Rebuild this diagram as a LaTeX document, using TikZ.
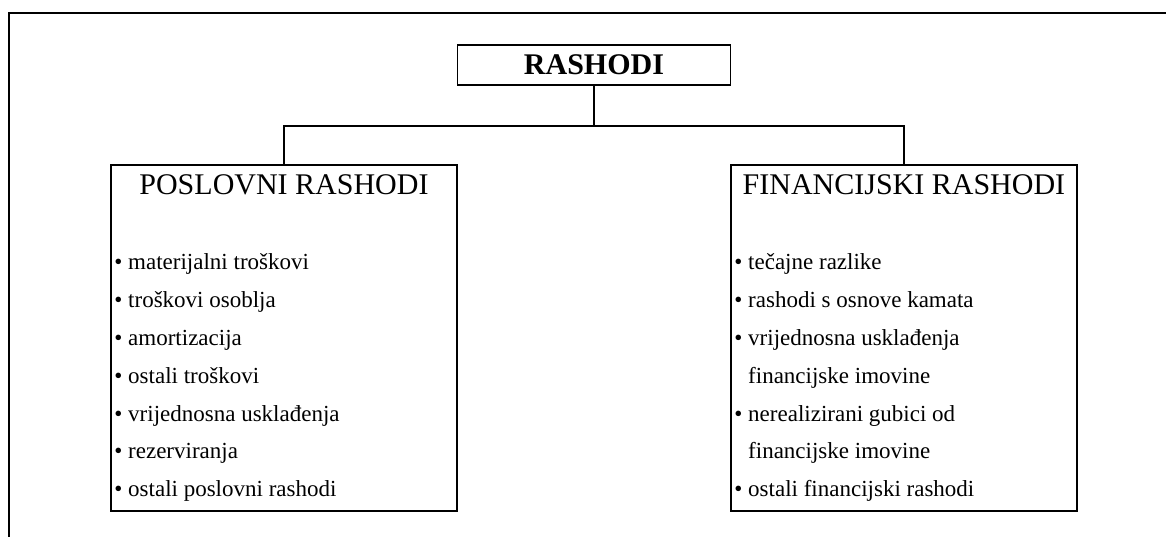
\documentclass[tikz,border=0pt]{standalone}
\usepackage{fontspec}
\setmainfont{Liberation Serif}
\usepackage{tikz}
\usetikzlibrary{calc, positioning}
\tikzset{
    rootbox/.style = {rectangle, draw, minimum width=273pt, minimum height=40pt, inner sep=0pt, outer sep=0pt, font=\fontsize{30pt}{36pt}\selectfont\bfseries},
    catbox/.style = {rectangle, draw, minimum width=346pt, minimum height=346pt, inner sep=0pt, outer sep=0pt},
    boxtitle/.style = {anchor=base, inner sep=0pt, font=\fontsize{30pt}{36pt}\selectfont},
    listline/.style = {anchor=base west, inner sep=0pt, font=\fontsize{23pt}{28pt}\selectfont}
}
\begin{document}
\begin{tikzpicture}
    [x=1pt, y=1pt, line width=1.8pt,
    level distance=273pt, sibling distance=620pt,
    edge from parent path={(\tikzparentnode.south) -- ++(0,-41pt) -| (\tikzchildnode.north)}]
    \useasboundingbox (0,0) rectangle (1166,537);
    % outer frame, only top and left edges show
    \coordinate (frame-bl) at (9,0);
    \coordinate (frame-tl) at (9,524);
    \coordinate (frame-tr) at (1166,524);
    \draw (frame-bl) -- (frame-tl) -- (frame-tr);
    \node [rootbox] (rashodi) at (594,472) {RASHODI}
        child {node [catbox] (poslovni) {}}
        child {node [catbox] (financijski) {}};
    \node [boxtitle] (poslovni-title) at ([yshift=-30pt]poslovni.north) {POSLOVNI RASHODI};
    \node [boxtitle] (financijski-title) at ([yshift=-30pt]financijski.north) {FINANCIJSKI RASHODI};
    \foreach \txt [count=\i from 0] in {{• materijalni troškovi}, {• troškovi osoblja}, {• amortizacija}, {• ostali troškovi}, {• vrijednosna usklađenja}, {• rezerviranja}, {• ostali poslovni rashodi}}
        \node [listline] (poslovni-\i) at ([xshift=2.5pt, yshift=-105pt-37.8pt*\i]poslovni.north west) {\txt};
    \foreach \txt [count=\i from 0] in {{• tečajne razlike}, {• rashodi s osnove kamata}, {• vrijednosna usklađenja}, {\phantom{• }financijske imovine}, {• nerealizirani gubici od}, {\phantom{• }financijske imovine}, {• ostali financijski rashodi}}
        \node [listline] (financijski-\i) at ([xshift=2.5pt, yshift=-105pt-37.8pt*\i]financijski.north west) {\txt};
\end{tikzpicture}
\end{document}
